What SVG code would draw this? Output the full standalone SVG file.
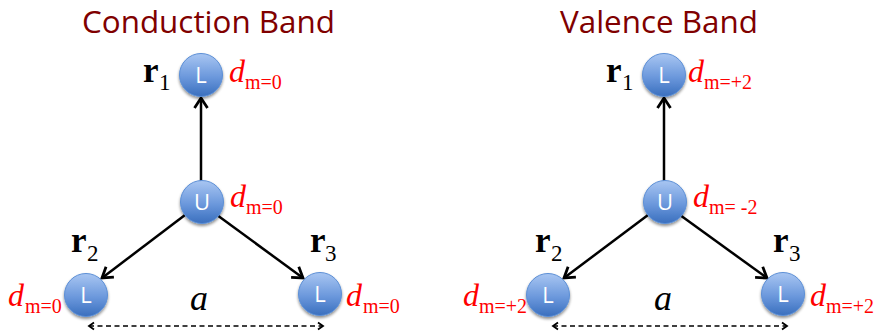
<svg xmlns="http://www.w3.org/2000/svg" width="874" height="332" viewBox="0 0 874 332">
<defs>
  <linearGradient id="g" x1="0" y1="0" x2="0" y2="1">
    <stop offset="0" stop-color="#a9c6f2"/>
    <stop offset="0.55" stop-color="#6b98dc"/>
    <stop offset="1" stop-color="#3a6fbe"/>
  </linearGradient>
  <filter id="sh" x="-30%" y="-30%" width="160%" height="170%">
    <feGaussianBlur in="SourceAlpha" stdDeviation="1.5"/>
    <feOffset dx="0" dy="2" result="b"/>
    <feComponentTransfer><feFuncA type="linear" slope="0.45"/></feComponentTransfer>
    <feMerge><feMergeNode/><feMergeNode in="SourceGraphic"/></feMerge>
  </filter>
  <marker id="ah" markerUnits="userSpaceOnUse" markerWidth="18" markerHeight="18" refX="13" refY="8" orient="auto">
    <path d="M3,1.5 L13,8 L3,14.5" fill="none" stroke="#000" stroke-width="2.8" stroke-linejoin="miter"/>
  </marker>
  <marker id="dh" markerUnits="userSpaceOnUse" markerWidth="10" markerHeight="10" refX="7" refY="5" orient="auto-start-reverse">
    <path d="M2,1.5 L7,5 L2,8.5" fill="none" stroke="#000" stroke-width="1.8"/>
  </marker>
</defs>
<style>
  .title{font-family:"Open Sans","Liberation Sans",sans-serif;font-size:31px;fill:#800000}
  .node circle{fill:url(#g);stroke:#5c8fd6;stroke-width:1;filter:url(#sh)}
  .node text{font-family:"Open Sans","Liberation Sans",sans-serif;font-size:22px;fill:#fff;text-anchor:middle}
  .r{font-family:"Liberation Serif",serif;font-size:35px;font-weight:bold;fill:#000}
  .rs{font-family:"Liberation Serif",serif;font-size:23px;fill:#000}
  .d{font-family:"Liberation Serif",serif;font-size:32px;font-style:italic;fill:#ff0000}
  .ds{font-family:"Liberation Serif",serif;font-size:20px;fill:#ff0000}
  .a{font-family:"Liberation Serif",serif;font-size:36px;font-style:italic;fill:#000}
  .arr{stroke:#000;stroke-width:2.5;fill:none;marker-end:url(#ah)}
  .dash{stroke:#000;stroke-width:1.5;stroke-dasharray:5 3.5;fill:none;marker-start:url(#dh);marker-end:url(#dh)}
</style>

<text class="title" x="82" y="33" textLength="253" lengthAdjust="spacingAndGlyphs">Conduction Band</text>
<text class="title" x="560" y="33" textLength="198" lengthAdjust="spacingAndGlyphs">Valence Band</text>

<g id="connectors">
  <line class="arr" x1="201" y1="181" x2="201" y2="98"/>
  <line class="arr" x1="185" y1="215" x2="102" y2="278"/>
  <line class="arr" x1="217" y1="215" x2="303" y2="278"/>
  <line class="dash" x1="89" y1="326" x2="323" y2="326"/>
  <line class="arr" x1="664" y1="181" x2="664" y2="98"/>
  <line class="arr" x1="648" y1="215" x2="564" y2="278"/>
  <line class="arr" x1="680" y1="215" x2="767" y2="278"/>
  <line class="dash" x1="553" y1="326" x2="787" y2="326"/>
</g>

<!-- Left diagram nodes -->
<g id="cb-L1" class="node"><circle cx="201" cy="75" r="21.5"/><text x="201" y="83">L</text></g>
<g id="cb-U" class="node"><circle cx="202" cy="202" r="21.5"/><text x="202" y="210">U</text></g>
<g id="cb-L2" class="node"><circle cx="86" cy="295" r="21.5"/><text x="86" y="303">L</text></g>
<g id="cb-L3" class="node"><circle cx="320" cy="294" r="21.5"/><text x="320" y="302">L</text></g>

<!-- Right diagram nodes -->
<g id="vb-L1" class="node"><circle cx="664" cy="75" r="21.5"/><text x="664" y="83">L</text></g>
<g id="vb-U" class="node"><circle cx="665" cy="202" r="21.5"/><text x="665" y="210">U</text></g>
<g id="vb-L2" class="node"><circle cx="548" cy="295" r="21.5"/><text x="548" y="303">L</text></g>
<g id="vb-L3" class="node"><circle cx="783" cy="294" r="21.5"/><text x="783" y="302">L</text></g>

<!-- Left labels -->
<g id="cb-labels">
  <text class="r" x="143" y="82">r</text><text class="rs" x="159" y="90">1</text>
  <text class="r" x="71" y="252">r</text><text class="rs" x="87" y="261">2</text>
  <text class="r" x="310" y="252">r</text><text class="rs" x="325" y="261">3</text>
  <text class="d" x="229" y="82">d</text><text class="ds" x="245" y="89">m=0</text>
  <text class="d" x="230" y="207">d</text><text class="ds" x="246" y="214">m=0</text>
  <text class="d" x="8" y="306">d</text><text class="ds" x="25" y="313">m=0</text>
  <text class="d" x="346" y="306">d</text><text class="ds" x="363" y="313">m=0</text>
  <text class="a" x="190" y="310">a</text>
</g>

<!-- Right labels -->
<g id="vb-labels">
  <text class="r" x="606" y="82">r</text><text class="rs" x="622" y="90">1</text>
  <text class="r" x="535" y="252">r</text><text class="rs" x="551" y="261">2</text>
  <text class="r" x="773" y="252">r</text><text class="rs" x="789" y="261">3</text>
  <text class="d" x="688" y="82">d</text><text class="ds" x="704" y="89">m=+2</text>
  <text class="d" x="693" y="207">d</text><text class="ds" x="709" y="214">m= -2</text>
  <text class="d" x="463" y="306">d</text><text class="ds" x="479" y="313">m=+2</text>
  <text class="d" x="810" y="306">d</text><text class="ds" x="826" y="313">m=+2</text>
  <text class="a" x="654" y="310">a</text>
</g>
</svg>
